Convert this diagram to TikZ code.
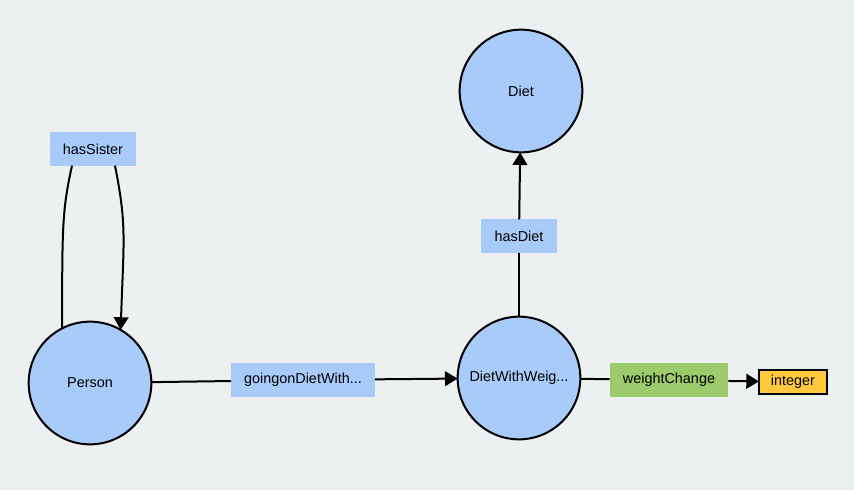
\documentclass[tikz,border=0pt]{standalone}
\usepackage{fontspec}
\setmainfont{Liberation Sans}
\usepackage{tkz-graph}
\usetikzlibrary{arrows.meta}
\usetikzlibrary{shapes}
\usetikzlibrary{calc}
\definecolor{bgGray}{HTML}{ECF0F1}
\definecolor{classBlue}{HTML}{A9CBF9}
\definecolor{propGreen}{HTML}{9BCB6B}
\definecolor{typeOrange}{HTML}{FFC83D}

\begin{document}
\begin{tikzpicture}[x = 0.75pt, y = -0.75pt, font = \fontsize{10.8pt}{13pt}\selectfont]
	\tikzstyle{VertexStyle} = []
	\tikzstyle{EdgeStyle} = [line width = 1.5pt]
	\tikzstyle{LabelStyle} = []
	\tikzstyle{classStyle} = [shape = circle, minimum size = 92pt, inner sep = 0pt, line width = 1.5pt, draw, fill = classBlue]
	\tikzstyle{propStyle} = [shape = rectangle, minimum height = 25pt, inner xsep = 10pt, fill = classBlue]
	\tikzstyle{dataStyle} = [shape = rectangle, minimum height = 25pt, inner xsep = 10pt, fill = propGreen]
	\tikzstyle{typeStyle} = [shape = rectangle, minimum height = 18pt, inner xsep = 9pt, line width = 2pt, draw, fill = typeOrange]
	\tikzstyle{arrowStyle} = [-{Triangle[width = 11pt, length = 9.5pt]}]
	\path[use as bounding box, fill = bgGray] (0,0) rectangle (854,490);
	\Vertex[style = classStyle, x = 90, y = 383, L = {Person}]{person}
	\Vertex[style = classStyle, x = 521, y = 91, L = {Diet}]{diet}
	\Vertex[style = classStyle, x = 519, y = 378, L = {DietWithWeig...}]{dww}
	\Vertex[style = propStyle, x = 93, y = 149, L = {hasSister}]{sis}
	\Vertex[style = propStyle, x = 303, y = 380, L = {goingonDietWith...}]{goon}
	\Vertex[style = propStyle, x = 519, y = 236, L = {hasDiet}]{hdiet}
	\Vertex[style = dataStyle, x = 669, y = 380, L = {weightChange}]{wchange}
	\Vertex[style = typeStyle, x = 793, y = 382, L = {integer}]{int}
	\Edge(person)(goon)
	\Edge[style = arrowStyle](goon)(dww)
	\Edge(dww)(hdiet)
	\Edge[style = arrowStyle](hdiet)(diet)
	\Edge(dww)(wchange)
	\Edge[style = arrowStyle](wchange)(int)
	% hasSister loop
	\draw[EdgeStyle] (person.117) .. controls +(0,-100) and +(-10,45) .. ($(sis.south)+(-21,0)$);
	\draw[EdgeStyle, arrowStyle] ($(sis.south)+(22,0)$) .. controls +(12,60) and +(3,-90) .. (person.60);
\end{tikzpicture}
\end{document}
